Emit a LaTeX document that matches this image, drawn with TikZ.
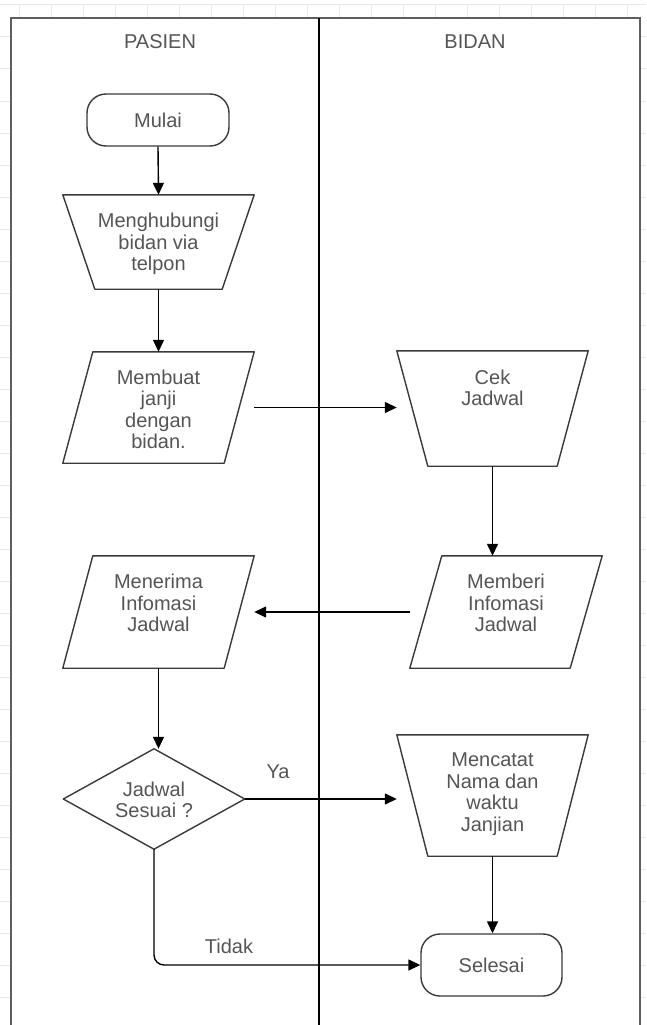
\documentclass[tikz,border=0pt]{standalone}
\usepackage{fontspec}
\setmainfont{Liberation Sans}
\usetikzlibrary{arrows.meta,calc}
\definecolor{gridgray}{HTML}{E8E8E8}
\definecolor{framegray}{HTML}{5E5E5E}
\definecolor{txtgray}{HTML}{555555}
\definecolor{linegray}{HTML}{3A3A3A}

\begin{document}
\begin{tikzpicture}[x=1pt,y=-1pt,
  txt/.style={font=\fontsize{20}{21.5}\selectfont, text=txtgray, align=center, inner sep=0pt},
  area/.style={draw=none, inner sep=0pt},
  outline/.style={draw=linegray, line width=1.4pt, line join=round},
  terminal/.style={area, draw=linegray, line width=1.4pt, rounded corners=19pt},
  flow/.style={draw=black, line width=1.4pt, -{Triangle[length=12pt,width=11pt]}},
  lane/.style={font=\fontsize{20}{22}\selectfont, text=txtgray, inner sep=0pt}]

\useasboundingbox (0,0) rectangle (646,1025);

% background grid of the canvas
\foreach \gx in {19,51,...,627} \draw[gridgray, line width=1pt] (\gx,5) -- (\gx,1025);
\foreach \gy in {5,37,...,1005} \draw[gridgray, line width=1pt] (0,\gy) -- (646,\gy);

% swimlane frame
\fill[white] (11,18) rectangle (640,1026);
\draw[framegray, line width=2pt] (11,1027) -- (11,18) -- (640,18) -- (640,1027);
\draw[black, line width=1.2pt] (319,18) -- (319,1027);
\node[lane] (pasien) at (160,42) {PASIEN};
\node[lane] (bidan) at (475,42) {BIDAN};

% patient lane
\node[terminal, minimum width=142pt, minimum height=52pt] (start) at (158,120) {};
\node[txt] (startt) at (start) {Mulai};

\node[area, minimum width=191pt, minimum height=94pt] (call) at (158.5,242) {};
\draw[outline] (call.north west) -- (call.north east) -- ([xshift=-32pt]call.south east) -- ([xshift=32pt]call.south west) -- cycle;
\node[txt] (callt) at (158.5,244) {Menghubungi\\bidan via\\telpon};

\node[area, minimum width=191pt, minimum height=111pt] (appt) at (158.5,407.5) {};
\draw[outline] ([xshift=30pt]appt.north west) -- (appt.north east) -- ([xshift=-30pt]appt.south east) -- (appt.south west) -- cycle;
\node[txt] (apptt) at (158.5,409.5) {Membuat\\janji\\dengan\\bidan.};

\node[area, minimum width=191pt, minimum height=112pt] (recv) at (158.5,612) {};
\draw[outline] ([xshift=30pt]recv.north west) -- (recv.north east) -- ([xshift=-30pt]recv.south east) -- (recv.south west) -- cycle;
\node[txt] (recvt) at (158.5,603) {Menerima\\Infomasi\\Jadwal};

\node[area, minimum width=181pt, minimum height=100pt] (dec) at (154,799) {};
\draw[outline] (dec.north) -- (dec.east) -- (dec.south) -- (dec.west) -- cycle;
\node[txt] (dect) at (154,800) {Jadwal\\Sesuai ?};

% midwife lane
\node[area, minimum width=191pt, minimum height=115pt] (cek) at (492.5,408.5) {};
\draw[outline] (cek.north west) -- (cek.north east) -- ([xshift=-31pt]cek.south east) -- ([xshift=31pt]cek.south west) -- cycle;
\node[txt] (cekt) at (492.5,388) {Cek\\Jadwal};

\node[area, minimum width=192pt, minimum height=112pt] (give) at (506,612) {};
\draw[outline] ([xshift=32pt]give.north west) -- (give.north east) -- ([xshift=-32pt]give.south east) -- (give.south west) -- cycle;
\node[txt] (givet) at (506,603) {Memberi\\Infomasi\\Jadwal};

\node[area, minimum width=191pt, minimum height=121pt] (note) at (492.5,795.5) {};
\draw[outline] (note.north west) -- (note.north east) -- ([xshift=-31pt]note.south east) -- ([xshift=31pt]note.south west) -- cycle;
\node[txt] (notet) at (492.5,794) {Mencatat\\Nama dan\\waktu\\Janjian};

\node[terminal, minimum width=141pt, minimum height=62pt] (end) at (491.5,965) {};
\node[txt] (endt) at (end) {Selesai};

% connectors
\draw[flow] (start.south) -- (call.north);
\draw[flow] (call.south) -- (appt.north);
\draw[flow] (appt.east) -- (appt.east -| cek.west);
\draw[flow] (cek.south) -- (cek.south |- give.north);
\draw[flow] (give.west) -- (give.west -| recv.east);
\draw[flow] (recv.south) -- (recv.south |- dec.north);
\draw[flow] (dec.east) -- (dec.east -| note.west);
\draw[flow] (note.south) -- (note.south |- end.north);
\draw[flow, rounded corners=10pt] (dec.south) |- (end.west);

\node[txt] (ya) at (278,772) {Ya};
\node[txt] (tidak) at (229,946) {Tidak};
\end{tikzpicture}
\end{document}
